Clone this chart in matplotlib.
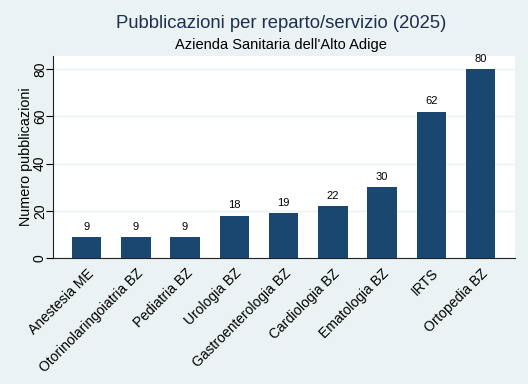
import matplotlib.pyplot as plt
import numpy as np

# data
reparti = ['Anestesia ME', 'Otorinolaringoiatria BZ', 'Pediatria BZ', 'Urologia BZ',
           'Gastroenterologia BZ', 'Cardiologia BZ', 'Ematologia BZ', 'IRTS', 'Ortopedia BZ']
pubblicazioni = [9, 9, 9, 18, 19, 22, 30, 62, 80]
y_ticks = [0, 20, 40, 60, 80]

plt.rcParams['font.family'] = ['Liberation Sans', 'DejaVu Sans']

bg = '#EAF2F3'
bar_color = '#1a476f'

fig = plt.figure(figsize=(5.28, 3.84), dpi=100, facecolor=bg)
ax = fig.add_axes([0.0995, 0.328, 0.876, 0.526])
ax.set_facecolor('white')

x = np.arange(len(reparti))
bars = ax.bar(x, pubblicazioni, width=0.6, color=bar_color, zorder=3)
for xi, v in zip(x, pubblicazioni):
    ax.text(xi, v + 2.2, str(v), ha='center', va='bottom', fontsize=8, color='black')

ax.set_xlim(-0.69, len(reparti) - 0.3)
ax.set_ylim(0, 85.5)
ax.set_yticks(y_ticks)
ax.set_yticklabels([str(t) for t in y_ticks], rotation=90, va='center', fontsize=10)
ax.yaxis.grid(True, color=bg, linewidth=1, zorder=0)
ax.set_ylabel('Numero pubblicazioni', fontsize=10.4, labelpad=0)

ax.set_xticks(x)
ax.set_xticklabels(reparti, rotation=45, ha='right', rotation_mode='anchor', fontsize=10)
ax.tick_params(axis='x', length=0, pad=6)
ax.tick_params(axis='y', length=5, width=0.8, pad=-1)

for s in ['top', 'right']:
    ax.spines[s].set_visible(False)
for s in ['left', 'bottom']:
    ax.spines[s].set_color('#222222')
    ax.spines[s].set_linewidth(0.8)

fig.text(0.532, 0.94, 'Pubblicazioni per reparto/servizio (2025)', ha='center', va='center',
         fontsize=13.3, color='#1e2e4f')
fig.text(0.533, 0.884, "Azienda Sanitaria dell'Alto Adige", ha='center', va='center',
         fontsize=10.5, color='black')

fig.savefig('out.png', dpi=100, facecolor=bg)
